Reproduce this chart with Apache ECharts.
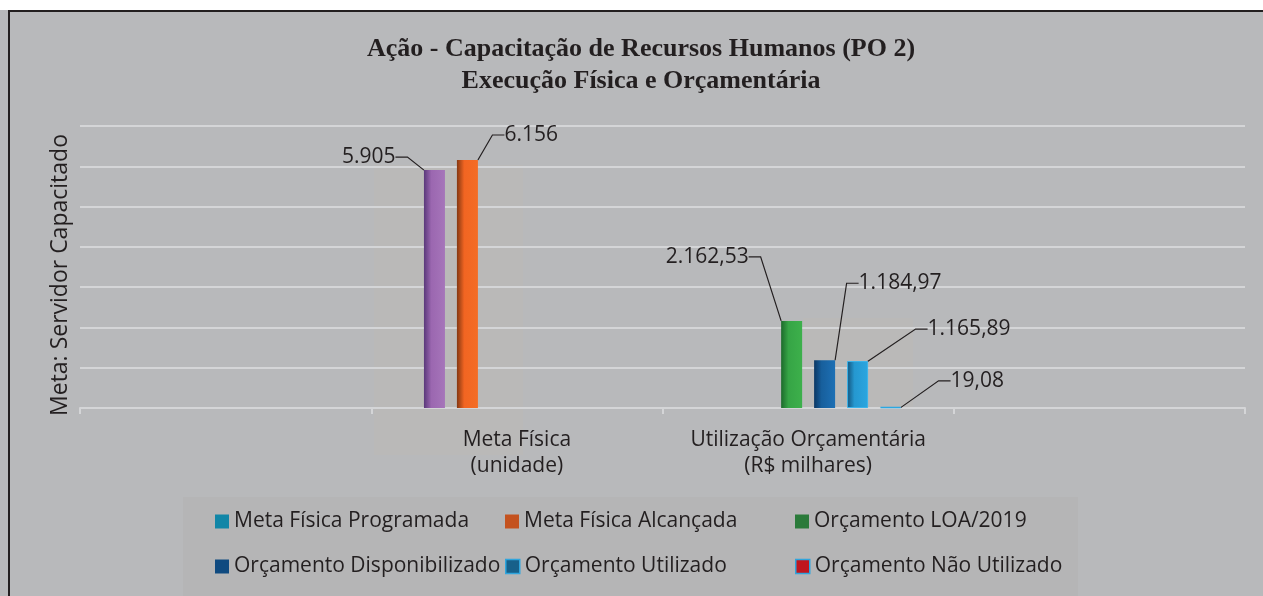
<!DOCTYPE html>
<html>
<head>
<meta charset="utf-8">
<script src="https://cdn.jsdelivr.net/npm/echarts@6/dist/echarts.min.js"></script>
<style>
    html, body { margin: 0; padding: 0; background: #ffffff; }
    #chart { position: absolute; left: 0; top: 0; width: 1263px; height: 596px; background: #b8b9bb; }
    #topStrip { position: absolute; left: 0; top: 0; width: 1263px; height: 10px; background: #ffffff; }
    #frame { position: absolute; left: 8px; top: 10px; width: 1260px; height: 600px;
             border-top: 2px solid #231f20; border-left: 2px solid #231f20; pointer-events: none; }
</style>
</head>
<body>
<div id="chart"></div>
<div id="topStrip"></div>
<div id="frame"></div>
<script>
// categorias do eixo X (as duas pontas ficam vazias, como no original)
let categorias = ['', 'Meta Física\n(unidade)', 'Utilização Orçamentária\n(R$ milhares)', ''];
// valores de cada série
let metaProgramada   = [null, 5905, null, null];
let metaAlcancada    = [null, 6156, null, null];
let orcamentoLOA     = [null, null, 2162.53, null];
let orcamentoDisp    = [null, null, 1184.97, null];
let orcamentoUtil    = [null, null, 1165.89, null];
let orcamentoNaoUtil = [null, null, 19.08, null];
let nomesSeries = ['Meta Física Programada', 'Meta Física Alcançada', 'Orçamento LOA/2019',
                   'Orçamento Disponibilizado', 'Orçamento Utilizado', 'Orçamento Não Utilizado'];
let casasDecimais = [0, 0, 2, 2, 2, 2];

const corTexto = '#231f20';
const fonte = '"Open Sans", "Noto Sans", sans-serif';

// formata no padrão brasileiro: 2.162,53
function fmtBR(v, dec) {
    let partes = v.toFixed(dec).split('.');
    let inteiro = partes[0].replace(/\B(?=(\d{3})+(?!\d))/g, '.');
    return partes.length > 1 ? inteiro + ',' + partes[1] : inteiro;
}

function grad(c0, c1, c2) {
    return new echarts.graphic.LinearGradient(0, 0, 1, 0, [
        { offset: 0, color: c0 },
        { offset: 0.35, color: c1 },
        { offset: 1, color: c2 }
    ]);
}

// deslocamento dos rótulos em relação ao topo da barra (dx, dy, alinhamento)
const posRotulo = [
    { dx: -35, dy: -13, align: 'right' },
    { dx: 33,  dy: -25, align: 'left' },
    { dx: -39, dy: -64, align: 'right' },
    { dx: 30,  dy: -77, align: 'left' },
    { dx: 66,  dy: -32, align: 'left' },
    { dx: 56,  dy: -26, align: 'left' }
];

const estilosBarra = [
    { color: grad('#5a387a', '#9b67b0', '#a675ba') },
    { color: grad('#853812', '#f26522', '#f46d25') },
    { color: grad('#1d6a2c', '#36a546', '#3db04b') },
    { color: grad('#0b3763', '#175f9c', '#1d70b5') },
    { color: grad('#13537b', '#2598d0', '#2aa6e0'), borderColor: '#3ab3ea', borderWidth: 1 },
    { color: '#c0161e', borderColor: '#2aa8e2', borderWidth: 1.5 }
];

const iconesLegenda = [
    { color: '#1186a7' },
    { color: '#c4521f' },
    { color: '#2a7a3a' },
    { color: '#0f4a80' },
    { color: '#17608a', borderColor: '#2fa5dd', borderWidth: 1.5 },
    { color: '#c0161e', borderColor: '#2fa5dd', borderWidth: 1.5 }
];

const posLegenda = [
    { left: 215, top: 511 }, { left: 505, top: 511 }, { left: 795, top: 511 },
    { left: 215, top: 556 }, { left: 505, top: 556 }, { left: 795, top: 556 }
];

let valores = [metaProgramada, metaAlcancada, orcamentoLOA, orcamentoDisp, orcamentoUtil, orcamentoNaoUtil];

let series = valores.map(function (dados, i) {
    return {
        name: nomesSeries[i],
        type: 'bar',
        data: dados,
        barWidth: 21,
        barGap: '57%',
        itemStyle: estilosBarra[i],
        label: {
            show: true,
            position: 'top',
            color: corTexto,
            fontFamily: fonte,
            fontSize: 21,
            padding: [0, 4],
            formatter: function (p) { return fmtBR(p.value, casasDecimais[i]); }
        },
        labelLine: {
            show: true,
            length2: 12,
            lineStyle: { color: corTexto, width: 1.2 }
        },
        labelLayout: function (p) {
            let o = posRotulo[i];
            return {
                x: p.rect.x + p.rect.width / 2 + o.dx,
                y: p.rect.y + o.dy,
                align: o.align,
                verticalAlign: 'middle'
            };
        }
    };
});

let legendas = nomesSeries.map(function (nome, i) {
    return {
        data: [{ name: nome, itemStyle: iconesLegenda[i] }],
        left: posLegenda[i].left,
        top: posLegenda[i].top,
        padding: 0,
        icon: 'rect',
        itemWidth: 14,
        itemHeight: 14,
        selectedMode: false,
        textStyle: { color: corTexto, fontFamily: fonte, fontSize: 21 }
    };
});

let option = {
    animation: false,
    backgroundColor: '#b8b9bb',
    title: {
        text: 'Ação - Capacitação de Recursos Humanos (PO 2)\nExecução Física e Orçamentária',
        left: 641,
        top: 33,
        padding: 0,
        textAlign: 'center',
        textStyle: {
            color: corTexto,
            fontFamily: '"Liberation Serif", "DejaVu Serif", serif',
            fontWeight: 'bold',
            fontSize: 26,
            lineHeight: 32
        }
    },
    graphic: [
        // painel da legenda e áreas levemente mais claras do original
        { type: 'rect', z: -10, shape: { x: 183, y: 497, width: 895, height: 99 }, style: { fill: '#b5b5b6' } },
        { type: 'rect', z: -10, shape: { x: 374, y: 165, width: 149, height: 290 }, style: { fill: '#bab9b8' } },
        { type: 'rect', z: -10, shape: { x: 803, y: 318, width: 110, height: 90 }, style: { fill: '#bab9b8' } }
    ],
    legend: legendas,
    grid: { left: 80, right: 18, top: 126, bottom: 188 },
    xAxis: {
        type: 'category',
        data: categorias,
        axisLine: { lineStyle: { color: '#d4d5d7', width: 2 } },
        axisTick: { show: true, interval: 0, length: 6, lineStyle: { color: '#d4d5d7', width: 2 } },
        axisLabel: { interval: 0, color: corTexto, fontFamily: fonte, fontSize: 21, lineHeight: 26, margin: 19 }
    },
    yAxis: {
        type: 'value',
        min: 0,
        max: 7000,
        interval: 1000,
        name: 'Meta: Servidor Capacitado',
        nameLocation: 'middle',
        nameGap: 8,
        nameTextStyle: { color: corTexto, fontFamily: fonte, fontSize: 23, padding: [0, 16, 0, 0] },
        axisLine: { show: false },
        axisTick: { show: false },
        axisLabel: { show: false },
        splitLine: { lineStyle: { color: '#d4d5d7', width: 2 } }
    },
    series: series
};

let grafico = echarts.init(document.getElementById('chart'));
grafico.setOption(option);

window.addEventListener('resize', function () {
    grafico.resize();
});
</script>
</body>
</html>
